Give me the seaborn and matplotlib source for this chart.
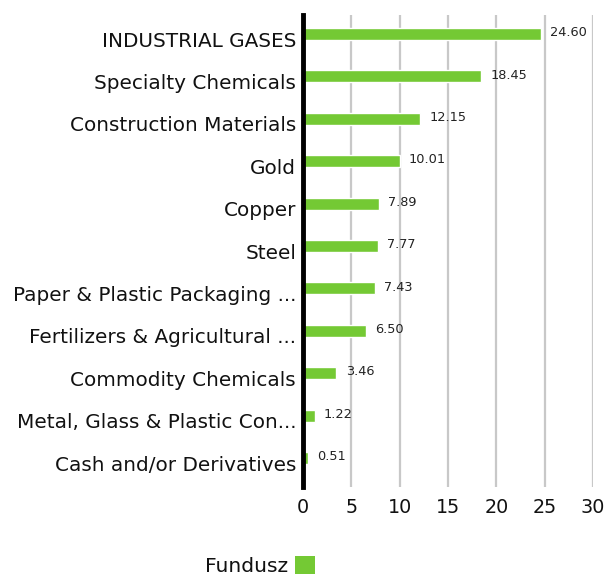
import matplotlib
matplotlib.use("Agg")
import matplotlib.pyplot as plt
import matplotlib.transforms as mtransforms
import seaborn as sns
import pandas as pd
from matplotlib.patches import Patch

categories = [
    "INDUSTRIAL GASES",
    "Specialty Chemicals",
    "Construction Materials",
    "Gold",
    "Copper",
    "Steel",
    "Paper & Plastic Packaging ...",
    "Fertilizers & Agricultural ...",
    "Commodity Chemicals",
    "Metal, Glass & Plastic Con...",
    "Cash and/or Derivatives",
]
values = [24.60, 18.45, 12.15, 10.01, 7.89, 7.77, 7.43, 6.50, 3.46, 1.22, 0.51]
series_name = "Fundusz"
xticks = [0, 5, 10, 15, 20, 25, 30]

df = pd.DataFrame({"cat": categories, "val": values})

sns.set_theme(style="white")
plt.rcParams["font.family"] = ["DejaVu Sans"]

fig = plt.figure(figsize=(6.06, 5.78), dpi=100)
ax = fig.add_axes([0.5, 0.1574, 0.4785, 0.8166])

green = "#74C934"
sns.barplot(data=df, y="cat", x="val", orient="h", color=green, width=0.28,
            saturation=1, ax=ax)

ax.set_xlim(0, 30)
ax.set_ylim(10.684, -0.448)
ax.set_xticks(xticks)
ax.set_xticklabels([str(t) for t in xticks], fontsize=13.8, color="#111111")
ax.tick_params(axis="y", labelsize=14.4, length=0, pad=5, labelcolor="#111111")
ax.tick_params(axis="x", length=0, pad=8)
ax.set_xlabel("")
ax.set_ylabel("")
ax.grid(axis="x", color="#c8c8c8", linewidth=1.6)
ax.set_axisbelow(True)
for s in ["top", "right", "bottom"]:
    ax.spines[s].set_visible(False)
ax.spines["left"].set_color("black")
ax.spines["left"].set_linewidth(3.5)
ax.spines["left"].set_zorder(5)

offset = mtransforms.ScaledTranslation(0, -5 / 100, fig.dpi_scale_trans)
for lbl in ax.get_yticklabels():
    lbl.set_transform(lbl.get_transform() + offset)

for i, v in enumerate(values):
    ax.text(v + 0.95, i - 0.03, f"{v:.2f}", fontsize=9.3, va="center", ha="left",
            color="#222222")

handles = [Patch(facecolor=green, edgecolor="none")]
fig.legend(handles, [series_name], loc="center", bbox_to_anchor=(0.429, 0.021),
           frameon=False, markerfirst=False, fontsize=14.6, handlelength=1.0,
           handleheight=1.0, handletextpad=0.35, labelcolor="#111111")

fig.savefig("out.png", dpi=100)
